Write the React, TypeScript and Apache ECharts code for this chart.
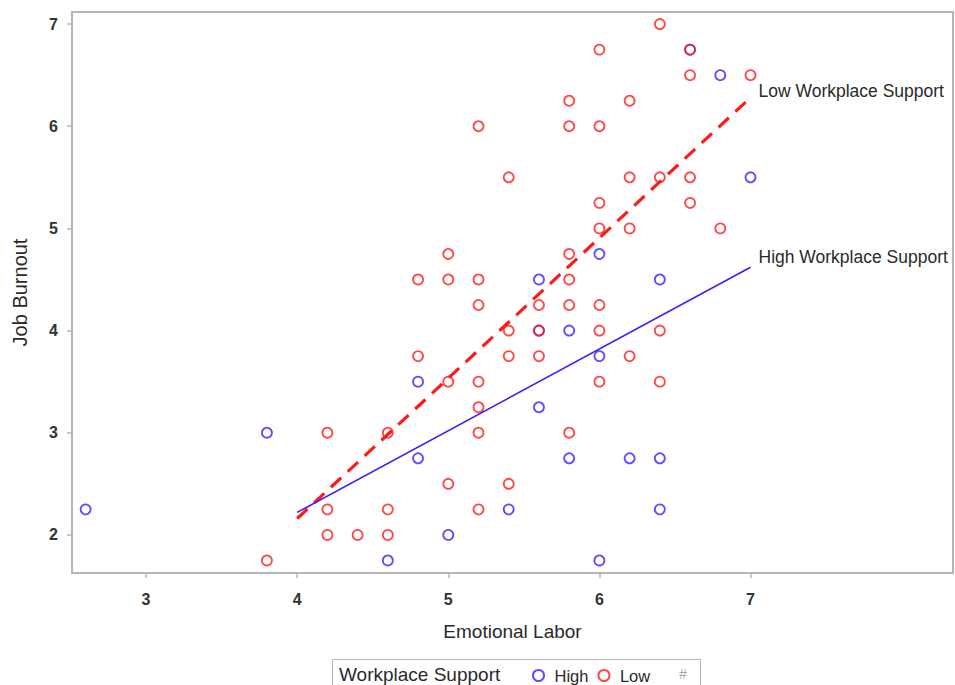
import React, { useEffect, useRef } from "react";
import * as echarts from "echarts";

const highX = [2.6, 3.8, 4.6, 4.8, 4.8, 5.0, 5.4, 5.6, 5.6, 5.6, 5.8, 5.8, 6.0, 6.0, 6.0, 6.2, 6.4, 6.4, 6.4, 6.6, 6.8, 7.0];
const highY = [2.25, 3.0, 1.75, 3.5, 2.75, 2.0, 2.25, 4.5, 4.0, 3.25, 4.0, 2.75, 4.75, 3.75, 1.75, 2.75, 4.5, 2.75, 2.25, 6.75, 6.5, 5.5];

const lowX = [3.8, 4.2, 4.2, 4.2, 4.4, 4.6, 4.6, 4.6, 4.8, 4.8, 5.0, 5.0, 5.0, 5.0, 5.2, 5.2, 5.2, 5.2, 5.2, 5.2, 5.2, 5.4, 5.4, 5.4, 5.4, 5.6, 5.6, 5.6, 5.8, 5.8, 5.8, 5.8, 5.8, 5.8, 6.0, 6.0, 6.0, 6.0, 6.0, 6.0, 6.0, 6.2, 6.2, 6.2, 6.2, 6.4, 6.4, 6.4, 6.4, 6.6, 6.6, 6.6, 6.6, 6.8, 7.0];
const lowY = [1.75, 3.0, 2.25, 2.0, 2.0, 3.0, 2.25, 2.0, 4.5, 3.75, 4.75, 4.5, 3.5, 2.5, 6.0, 4.5, 4.25, 3.5, 3.25, 3.0, 2.25, 5.5, 4.0, 3.75, 2.5, 4.25, 4.0, 3.75, 6.25, 6.0, 4.75, 4.5, 4.25, 3.0, 6.75, 6.0, 5.25, 5.0, 4.25, 4.0, 3.5, 6.25, 5.5, 5.0, 3.75, 7.0, 5.5, 4.0, 3.5, 6.75, 6.5, 5.5, 5.25, 5.0, 6.5];

const lowLineX = [4, 7];
const lowLineY = [2.16, 6.28];
const highLineX = [4, 7];
const highLineY = [2.22, 4.62];

const xTicks = [3, 4, 5, 6, 7];
const yTicks = [2, 3, 4, 5, 6, 7];

const BLUE = "#3d1cff";
const RED = "#ff1a1a";
const AXIS = "#b3b7bb";
const FONT = "Liberation Sans, Arial, sans-serif";
const NARROW = "Liberation Sans Narrow, Liberation Sans, Arial, sans-serif";
const TXT = "#2a2a2a";

const zip = (xs: number[], ys: number[]) => xs.map((x, i) => [x, ys[i]]);

export default function App() {
  const ref = useRef<HTMLDivElement>(null);
  useEffect(() => {
    if (!ref.current) return;
    const chart = echarts.init(ref.current, undefined, { renderer: "svg" });
    chart.setOption({
      animation: false,
      backgroundColor: "#ffffff",
      grid: {
        left: 72,
        top: 12,
        right: 2,
        bottom: 112,
        show: true,
        borderColor: AXIS,
        borderWidth: 2,
        backgroundColor: "transparent",
      },
      xAxis: {
        type: "value",
        min: 2.51,
        max: 8.34,
        name: "Emotional Labor",
        nameLocation: "middle",
        nameGap: 49,
        nameTextStyle: { fontFamily: FONT, fontSize: 19, color: TXT },
        axisLine: { show: true, lineStyle: { color: AXIS, width: 2 } },
        axisTick: { show: true, length: 5, customValues: xTicks, lineStyle: { color: AXIS, width: 1.5 } },
        axisLabel: { customValues: xTicks, margin: 18, fontFamily: NARROW, fontWeight: "bold", fontSize: 16, color: "#333" },
        splitLine: { show: false },
      },
      yAxis: {
        type: "value",
        min: 1.627,
        max: 7.118,
        name: "Job Burnout",
        nameLocation: "middle",
        nameGap: 42,
        nameRotate: 90,
        nameTextStyle: { fontFamily: FONT, fontSize: 20, color: TXT },
        axisLine: { show: true, lineStyle: { color: AXIS, width: 2 } },
        axisTick: { show: true, length: 5, customValues: yTicks, lineStyle: { color: AXIS, width: 1.5 } },
        axisLabel: { customValues: yTicks, margin: 14, fontFamily: NARROW, fontWeight: "bold", fontSize: 16, color: "#333" },
        splitLine: { show: false },
      },
      legend: {
        data: ["High", "Low"],
        left: 527,
        top: 662,
        itemWidth: 22,
        itemHeight: 11,
        itemGap: 9,
        textStyle: { fontFamily: FONT, fontSize: 16.5, color: TXT },
      },
      graphic: [
        {
          type: "rect",
          shape: { x: 332.5, y: 659.5, width: 368, height: 40 },
          style: { fill: "none", stroke: AXIS, lineWidth: 1 },
        },
        {
          type: "text",
          x: 339,
          y: 674,
          style: { text: "Workplace Support", fontFamily: FONT, fontSize: 19, fill: TXT, verticalAlign: "middle" },
        },
        {
          type: "text",
          x: 679,
          y: 674,
          style: { text: "#", fontFamily: FONT, fontSize: 14, fill: "#aaa", verticalAlign: "middle" },
        },
      ],
      series: [
        {
          name: "High",
          type: "scatter",
          data: zip(highX, highY),
          symbol: "circle",
          symbolSize: 10,
          itemStyle: { color: "rgba(255,255,255,0)", borderColor: BLUE, borderWidth: 1.8 },
          z: 3,
        },
        {
          name: "Low",
          type: "scatter",
          data: zip(lowX, lowY),
          symbol: "circle",
          symbolSize: 10,
          itemStyle: { color: "rgba(255,255,255,0)", borderColor: RED, borderWidth: 1.8 },
          z: 4,
        },
        {
          name: "Low Workplace Support",
          type: "line",
          data: zip(lowLineX, lowLineY),
          showSymbol: false,
          lineStyle: { color: RED, width: 3.2, type: [14, 9] },
          endLabel: {
            show: true,
            formatter: "Low Workplace Support",
            distance: 8,
            offset: [0, -7],
            fontFamily: FONT,
            fontSize: 17.5,
            color: TXT,
          },
          z: 2,
        },
        {
          name: "High Workplace Support",
          type: "line",
          data: zip(highLineX, highLineY),
          showSymbol: false,
          lineStyle: { color: BLUE, width: 1.6 },
          endLabel: {
            show: true,
            formatter: "High Workplace Support",
            distance: 8,
            offset: [0, -10],
            fontFamily: FONT,
            fontSize: 17.5,
            color: TXT,
          },
          z: 2,
        },
      ],
    });
    return () => chart.dispose();
  }, []);
  return (
    <div
      ref={ref}
      style={{ position: "absolute", left: 0, top: 0, width: 955, height: 685, background: "#fff" }}
    />
  );
}
